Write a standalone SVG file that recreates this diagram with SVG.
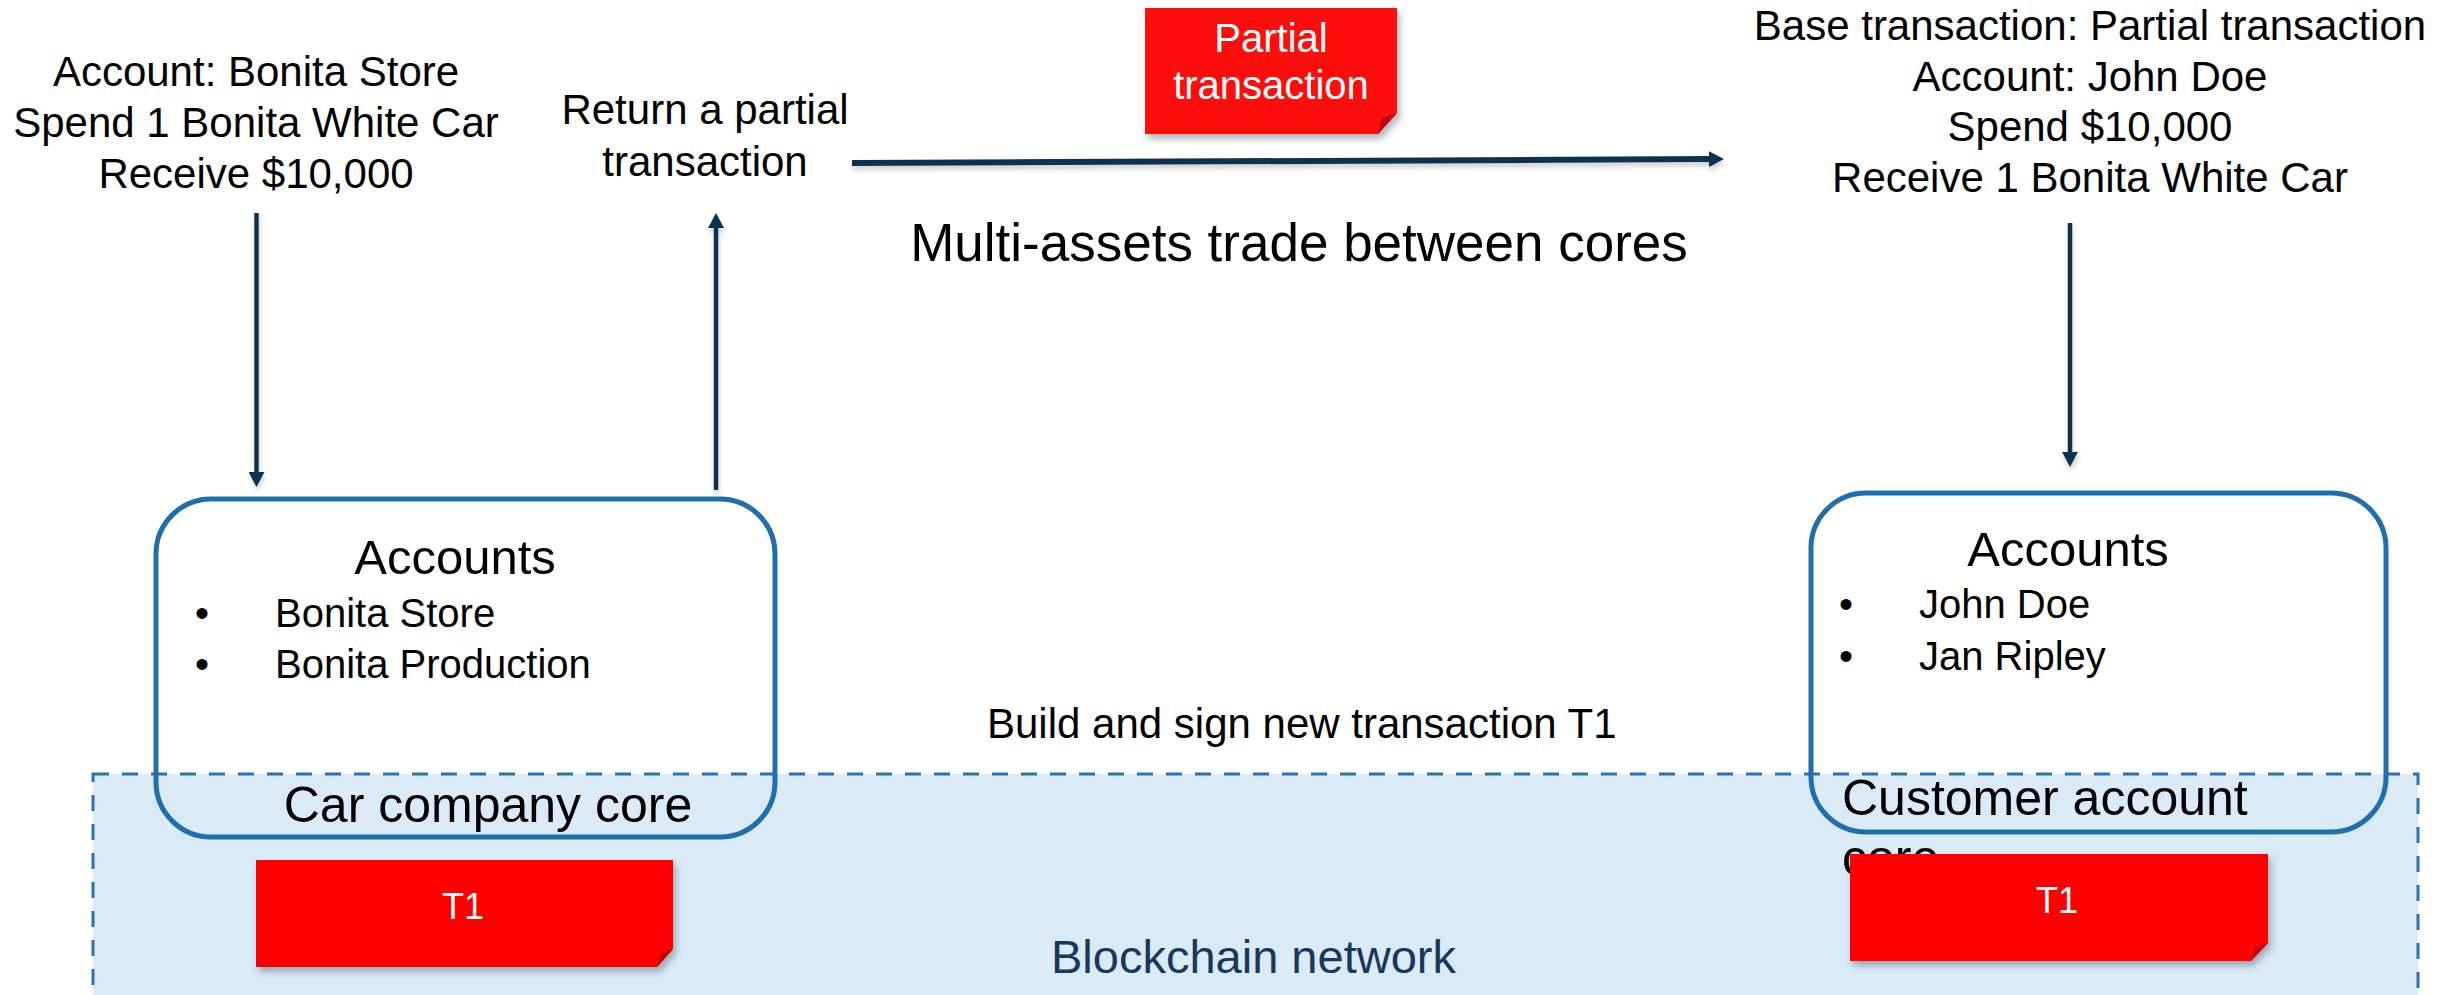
<svg xmlns="http://www.w3.org/2000/svg" width="2461" height="995" viewBox="0 0 2461 995">
<defs>
<style>
text{font-family:"Liberation Sans",Arial,sans-serif;fill:#000}
.t42{font-size:42px}
.c{text-anchor:middle}
.acc{font-size:49px;text-anchor:middle}
.item{font-size:40px}
.core{font-size:50px}
.note{filter:url(#sh)}
.nt{fill:#fff;text-anchor:middle}
.box{fill:none;stroke:#1f6fae;stroke-width:5}
.arr{stroke:#0f3350;stroke-width:4.5;fill:none;marker-end:url(#ah);filter:url(#lsh)}
</style>
<marker id="ah" markerUnits="userSpaceOnUse" markerWidth="16" markerHeight="16" refX="2" refY="8" orient="auto">
<path d="M0,0 L15,8 L0,16 Z" fill="#0f3350"/>
</marker>
<filter id="sh" x="-10%" y="-10%" width="130%" height="140%">
<feDropShadow dx="3" dy="5" stdDeviation="3.5" flood-color="#4a5a6a" flood-opacity="0.45"/>
</filter>
<filter id="lsh" filterUnits="userSpaceOnUse" x="0" y="0" width="2461" height="995">
<feDropShadow dx="1" dy="4" stdDeviation="2.5" flood-color="#777" flood-opacity="0.35"/>
</filter>
</defs>

<g id="network">
<rect x="93" y="774" width="2325" height="260" fill="#dbeaf7" stroke="#2b72b3" stroke-width="3" stroke-dasharray="16 13"/>
<text x="1051" y="973" style="font-size:47px;fill:#17375e">Blockchain network</text>
</g>

<g id="header">
<text x="1299" y="261" style="font-size:53px" class="c">Multi-assets trade between cores</text>
<text x="987" y="738" class="t42">Build and sign new transaction T1</text>
</g>

<g id="car-request">
<text x="256" y="86" class="t42 c">Account: Bonita Store</text>
<text x="256" y="137" class="t42 c">Spend 1 Bonita White Car</text>
<text x="256" y="188" class="t42 c">Receive $10,000</text>
</g>

<g id="return-label">
<text x="705" y="124" class="t42 c">Return a partial</text>
<text x="705" y="176" class="t42 c">transaction</text>
</g>

<g id="customer-request">
<text x="2090" y="40" class="t42 c">Base transaction: Partial transaction</text>
<text x="2090" y="90.5" class="t42 c">Account: John Doe</text>
<text x="2090" y="141" class="t42 c">Spend $10,000</text>
<text x="2090" y="191.5" class="t42 c">Receive 1 Bonita White Car</text>
</g>

<g id="car-company-core">
<rect x="156" y="499" width="619" height="338" rx="55" ry="55" class="box"/>
<text x="455" y="574" class="acc">Accounts</text>
<text x="202" y="627" class="item c">•</text>
<text x="275" y="627" class="item">Bonita Store</text>
<text x="202" y="678" class="item c">•</text>
<text x="275" y="678" class="item">Bonita Production</text>
<text x="488" y="822" class="core c">Car company core</text>
</g>

<g id="customer-account-core">
<rect x="1811" y="493" width="575" height="339" rx="55" ry="55" class="box"/>
<text x="2068" y="566" class="acc">Accounts</text>
<text x="1846" y="618" class="item c">•</text>
<text x="1919" y="618" class="item">John Doe</text>
<text x="1846" y="670" class="item c">•</text>
<text x="1919" y="670" class="item">Jan Ripley</text>
<text x="1842" y="815" class="core">Customer account</text>
<text x="1842" y="875" class="core">core</text>
</g>

<g id="partial-note">
<path class="note" d="M1145,8 H1397 V113 L1378,134 H1145 Z" fill="#fe0a0f"/>
<path d="M1397,113 L1382,118 L1378,134 Z" fill="#c00010"/>
<text x="1271" y="52" class="nt" style="font-size:40px">Partial</text>
<text x="1271" y="99" class="nt" style="font-size:40px">transaction</text>
</g>

<g id="t1-left">
<path class="note" d="M256,860 H673 V949 L657,967 H256 Z" fill="#ff0000"/>
<path d="M673,949 L661,953 L657,967 Z" fill="#c00000"/>
<text x="463" y="919" class="nt" style="font-size:36px">T1</text>
</g>

<g id="t1-right">
<path class="note" d="M1850,854 H2268 V943 L2251,961 H1850 Z" fill="#ff0000"/>
<path d="M2268,943 L2255,947 L2251,961 Z" fill="#c00000"/>
<text x="2057" y="913" class="nt" style="font-size:36px">T1</text>
</g>

<g id="connectors">
<line x1="256.5" y1="213" x2="256.5" y2="474" class="arr"/>
<line x1="716" y1="490" x2="716" y2="226" class="arr"/>
<line x1="852" y1="163" x2="1711" y2="159.1" class="arr" style="stroke-width:6"/>
<line x1="2070" y1="223" x2="2070" y2="454" class="arr"/>
</g>
</svg>
